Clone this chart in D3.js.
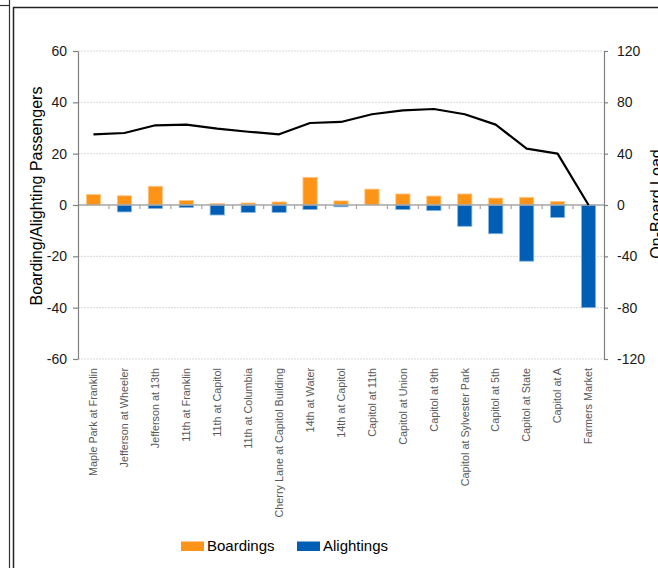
<!DOCTYPE html>
<html>
<head>
<meta charset="utf-8">
<script src="https://cdnjs.cloudflare.com/ajax/libs/d3/7.8.5/d3.min.js"></script>
<style>
  body { margin: 0; background: #fff; }
  svg { display: block; font-family: "Liberation Sans", Arial, sans-serif; }
</style>
</head>
<body>
<div id="chart"></div>
<script>
// stops along the route
const stops = ["Maple Park at Franklin", "Jefferson at Wheeler", "Jefferson at 13th", "11th at Franklin",
    "11th at Capitol", "11th at Columbia", "Cherry Lane at Capitol Building", "14th at Water",
    "14th at Capitol", "Capitol at 11th", "Capitol at Union", "Capitol at 9th",
    "Capitol at Sylvester Park", "Capitol at 5th", "Capitol at State", "Capitol at A", "Farmers Market"]
const boardings = [4.1, 3.6, 7.3, 1.8, 0.6, 0.8, 1.2, 10.8, 1.6, 6.2, 4.3, 3.5, 4.3, 2.7, 3.0, 1.4, 0]
const alightings = [0, -2.7, -1.4, -1.0, -3.9, -2.9, -2.9, -1.8, -0.7, 0, -1.8, -2.2, -8.3, -11.2, -21.9, -4.9, -40]
const onBoardLoad = [55.1, 56.1, 62.1, 62.6, 59.5, 57.1, 55.1, 63.9, 64.7, 70.7, 73.8, 74.8, 70.7, 62.6, 43.9, 40.0, 0]
const leftTicks = [-60, -40, -20, 0, 20, 40, 60]
const rightTicks = [-120, -80, -40, 0, 40, 80, 120]

const W = 658, H = 568
const plot = { left: 78, right: 604, top: 51, bottom: 359 }

const svg = d3.select("#chart").append("svg")
    .attr("width", W)
    .attr("height", H)

// outer frames
svg.append("line").attr("x1", 9.5).attr("y1", 0).attr("x2", 9.5).attr("y2", H)
    .style("stroke", "#333").style("stroke-width", 1.2)
svg.append("line").attr("x1", 0).attr("y1", 5.5).attr("x2", 9.5).attr("y2", 5.5)
    .style("stroke", "#333").style("stroke-width", 1.2)
svg.append("rect").attr("x", 13.5).attr("y", 7.5).attr("width", 700).attr("height", 700)
    .style("fill", "none").style("stroke", "#222").style("stroke-width", 1.5)

// scales
const x = d3.scaleBand().domain(stops).range([plot.left, plot.right]).padding(0)
const yL = d3.scaleLinear().domain([-60, 60]).range([plot.bottom, plot.top])
const yR = d3.scaleLinear().domain([-120, 120]).range([plot.bottom, plot.top])
const barW = x.bandwidth() * 0.46

// dotted grid lines
svg.selectAll("line.grid")
    .data(leftTicks.filter(d => d !== 0))
    .enter().append("line")
    .attr("class", "grid")
    .attr("x1", plot.left).attr("x2", plot.right)
    .attr("y1", d => yL(d)).attr("y2", d => yL(d))
    .style("stroke", "#d9d9d9")
    .style("stroke-width", 1)
    .style("stroke-dasharray", "2 1")

// boardings bars
svg.selectAll(".board")
    .data(stops)
    .enter().append("rect")
    .attr("class", "board")
    .attr("x", d => x(d) + (x.bandwidth() - barW) / 2)
    .attr("width", barW)
    .attr("y", (d, i) => yL(boardings[i]))
    .attr("height", (d, i) => yL(0) - yL(boardings[i]))
    .style("fill", "#fd9418")
    .style("stroke", (d, i) => boardings[i] > 0 ? "#ffc98c" : "none")
    .style("stroke-width", 0.8)

// alightings bars
svg.selectAll(".alight")
    .data(stops)
    .enter().append("rect")
    .attr("class", "alight")
    .attr("x", d => x(d) + (x.bandwidth() - barW) / 2)
    .attr("width", barW)
    .attr("y", yL(0))
    .attr("height", (d, i) => yL(alightings[i]) - yL(0))
    .style("fill", "#005fb4")
    .style("stroke", (d, i) => alightings[i] < 0 ? "#8ab6e2" : "none")
    .style("stroke-width", 0.8)

// category axis at zero
svg.append("line")
    .attr("x1", plot.left).attr("x2", plot.right)
    .attr("y1", yL(0)).attr("y2", yL(0))
    .style("stroke", "#a6a6a6").style("stroke-width", 1.6)
svg.selectAll("line.cat-tick")
    .data(stops.slice(1))
    .enter().append("line")
    .attr("class", "cat-tick")
    .attr("x1", d => x(d)).attr("x2", d => x(d))
    .attr("y1", yL(0)).attr("y2", yL(0) + 4)
    .style("stroke", "#a6a6a6").style("stroke-width", 1.2)

// on-board load line
const line = d3.line()
    .x((d, i) => x(stops[i]) + x.bandwidth() / 2)
    .y(d => yR(d))
svg.append("path")
    .datum(onBoardLoad)
    .attr("d", line)
    .style("fill", "none")
    .style("stroke", "#000")
    .style("stroke-width", 2.2)
    .style("stroke-linejoin", "round")

// left and right axes (plain hyphen for negatives, as in the original)
const leftAxis = svg.append("g")
    .attr("transform", "translate(" + plot.left + ",0)")
    .call(d3.axisLeft(yL).tickValues(leftTicks).tickFormat(d => String(d))
        .tickSize(5).tickPadding(6).tickSizeOuter(0))
const rightAxis = svg.append("g")
    .attr("transform", "translate(" + plot.right + ",0)")
    .call(d3.axisRight(yR).tickValues(rightTicks).tickFormat(d => String(d))
        .tickSize(4).tickPadding(9).tickSizeOuter(0))
for (const g of [leftAxis, rightAxis]) {
    g.select(".domain").style("stroke", "#808080").style("stroke-width", 1.2)
    g.selectAll(".tick line").style("stroke", "#808080").style("stroke-width", 1.2)
    g.selectAll(".tick text")
        .style("font-family", "'Liberation Sans', Arial, sans-serif")
        .style("font-size", "14px")
        .style("fill", "#1a1a1a")
}

// category labels
svg.selectAll(".cat-label")
    .data(stops)
    .enter().append("text")
    .attr("class", "cat-label")
    .attr("transform", d => "translate(" + (x(d) + x.bandwidth() / 2) + ",368) rotate(-90)")
    .attr("dy", "0.35em")
    .attr("text-anchor", "end")
    .style("font-size", "10.8px")
    .style("fill", "#595959")
    .text(d => d)

// axis titles
svg.append("text")
    .attr("transform", "translate(41.5,196) rotate(-90)")
    .attr("text-anchor", "middle")
    .style("font-size", "16px")
    .style("fill", "#000")
    .text("Boarding/Alighting Passengers")
svg.append("text")
    .attr("transform", "translate(661.5,204) rotate(-90)")
    .attr("text-anchor", "middle")
    .style("font-size", "16px")
    .style("fill", "#000")
    .text("On-Board Load")

// legend
const legend = [["Boardings", "#fd9418", 181], ["Alightings", "#005fb4", 297]]
const lg = svg.selectAll(".legend")
    .data(legend)
    .enter().append("g")
    .attr("class", "legend")
    .attr("transform", d => "translate(" + d[2] + ",0)")
lg.append("rect")
    .attr("x", 0).attr("y", 541.5)
    .attr("width", 23).attr("height", 9.5)
    .style("fill", d => d[1])
lg.append("text")
    .attr("x", 26).attr("y", 551)
    .style("font-size", "15px")
    .style("fill", "#000")
    .text(d => d[0])
</script>
</body>
</html>
